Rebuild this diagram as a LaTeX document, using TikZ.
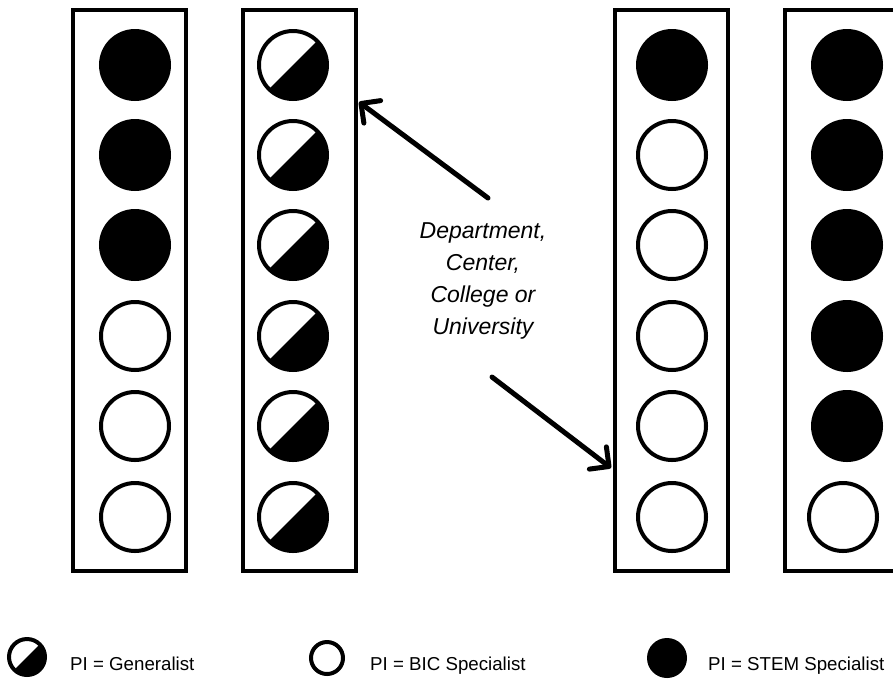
\documentclass[tikz,border=0pt]{standalone}
\usepackage{fontspec}
\setmainfont{Liberation Sans}
\usetikzlibrary{arrows.meta}
\tikzset{
  panel/.style={draw, line width=4pt, rectangle, inner sep=0pt, minimum width=113pt, minimum height=561pt},
  pi/.style={circle, draw, line width=4pt, inner sep=0pt, minimum size=68pt},
  stem/.style={pi, fill=black},
  bic/.style={pi, fill=white},
  gen/.style={pi, path picture={\fill[black] (path picture bounding box.north east) -- (path picture bounding box.south west) -- (path picture bounding box.south east) -- cycle;}},
  lstem/.style={stem, minimum size=36pt},
  lbic/.style={bic, minimum size=32pt},
  lgen/.style={gen, minimum size=36pt},
  legtext/.style={anchor=base west, font=\fontsize{18.7}{22}\selectfont, inner sep=0pt},
  callout/.style={line width=5pt, line cap=round, line join=round, -{Straight Barb[length=14pt,width=28pt,round]}}
}
\begin{document}
\begin{tikzpicture}[x=1pt,y=-1pt]
\useasboundingbox[fill=white] (0,0) rectangle (893,678);
% panels
\node[panel] (b1) at (129.5,290.5) {};
\node[panel] (b2) at (299.5,290.5) {};
\node[panel] (b3) at (671.5,290.5) {};
\node[panel] (b4) at (841.5,290.5) {};
% panel 1
\node[stem] (c11) at (135,65) {};
\node[stem] (c12) at (135,155) {};
\node[stem] (c13) at (135,245) {};
\node[bic]  (c14) at (135,336) {};
\node[bic]  (c15) at (135,426) {};
\node[bic]  (c16) at (135,517) {};
% panel 2
\node[gen] (c21) at (293,65) {};
\node[gen] (c22) at (293,155) {};
\node[gen] (c23) at (293,245) {};
\node[gen] (c24) at (293,336) {};
\node[gen] (c25) at (293,426) {};
\node[gen] (c26) at (293,517) {};
% panel 3
\node[stem] (c31) at (672,65) {};
\node[bic]  (c32) at (672,155) {};
\node[bic]  (c33) at (672,245) {};
\node[bic]  (c34) at (672,336) {};
\node[bic]  (c35) at (672,426) {};
\node[bic]  (c36) at (672,517) {};
% panel 4
\node[stem] (c41) at (847,65) {};
\node[stem] (c42) at (847,155) {};
\node[stem] (c43) at (847,245) {};
\node[stem] (c44) at (847,336) {};
\node[stem] (c45) at (847,426) {};
\node[bic]  (c46) at (843,517) {};
% label and arrows
\node[align=center, font=\fontsize{23}{32}\selectfont\itshape, inner sep=0pt] (lab) at (483,281)
  {Department,\\Center,\\College or\\University};
\coordinate (a1s) at (488,198);
\coordinate (a1e) at (359,102);
\coordinate (a2s) at (492,377);
\coordinate (a2e) at (611,468);
\draw[callout] (a1s) -- (a1e);
\draw[callout] (a2s) -- (a2e);
% legend
\node[lgen] (lg) at (27,657) {};
\node[legtext] (lgt) at (70,670) {PI = Generalist};
\node[lbic] (lb) at (327,658) {};
\node[legtext] (lbt) at (370,670) {PI = BIC Specialist};
\node[lstem] (ls) at (667,658) {};
\node[legtext] (lst) at (708,670) {PI = STEM Specialist};
\end{tikzpicture}
\end{document}
